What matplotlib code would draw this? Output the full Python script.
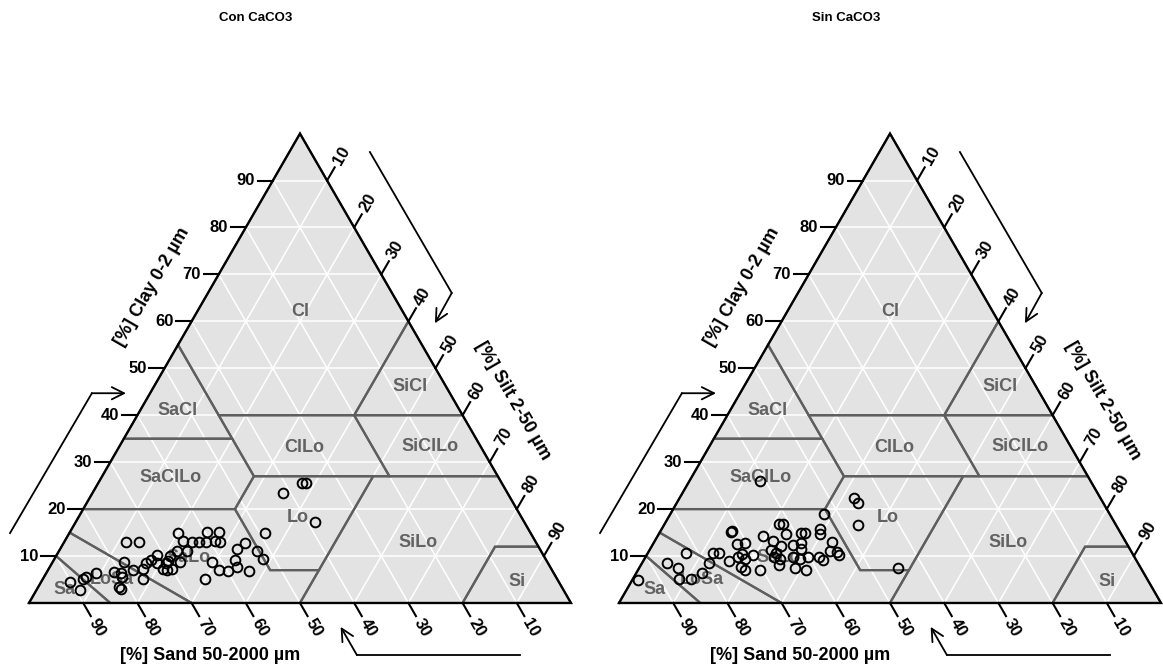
import numpy as np
import matplotlib
matplotlib.use("Agg")
from matplotlib import pyplot as plt

plt.rcParams['font.family'] = ['Liberation Sans', 'DejaVu Sans']

# texture data: sand and clay in %, silt = 100 - sand - clay
sand_con = [90.2, 89.2, 87.5, 86.7, 84.4, 81.0, 79.8, 78.1, 80.1, 81.7,
            81.5, 77.3, 75.3, 76.4, 75.6, 73.2, 74.2, 72.9, 71.3, 72.1,
            71.7, 70.5, 69.9, 69.0, 70.0, 71.0, 65.1, 65.0, 67.2, 67.8,
            65.3, 63.4, 62.1, 59.6, 60.8, 59.1, 57.4, 58.3, 61.9, 65.0,
            61.4, 59.9, 57.8, 57.4, 55.9, 53.8, 56.0, 52.4, 52.1, 49.0,
            41.4, 36.9, 36.1, 38.6]
clay_con = [4.5, 2.8, 5.1, 5.5, 6.4, 6.6, 6.4, 8.7, 5.5, 3.4,
            3.0, 7.0, 7.2, 5.1, 13.0, 13.0, 8.5, 9.2, 10.2, 8.5,
            7.2, 8.5, 9.0, 10.0, 7.2, 7.0, 14.9, 13.2, 11.1, 8.7,
            11.1, 13.0, 13.0, 15.1, 13.0, 13.2, 15.1, 13.0, 8.7, 5.1,
            7.0, 6.8, 7.7, 9.2, 11.5, 12.8, 6.8, 11.1, 9.4, 14.9,
            23.4, 25.6, 25.6, 17.3]

sand_sin = [94.0, 86.9, 85.4, 82.3, 86.4, 84.2, 81.5, 79.1, 77.3, 76.2,
            75.2, 71.8, 71.5, 72.0, 70.4, 73.1, 72.1, 73.7, 73.2, 70.2,
            66.3, 70.5, 65.0, 66.3, 65.7, 66.5, 62.1, 61.3, 61.8, 65.6,
            66.4, 64.0, 61.7, 63.0, 63.8, 59.0, 58.2, 60.0, 60.7, 61.9,
            60.2, 62.0, 55.0, 55.6, 58.2, 57.8, 52.7, 54.2, 55.5, 54.3,
            54.3, 45.5, 45.3, 47.6, 44.8, 61.0, 72.1]
clay_sin = [4.9, 8.5, 7.5, 10.7, 5.1, 5.1, 6.4, 8.5, 10.7, 10.7,
            9.0, 15.1, 15.3, 12.6, 12.8, 9.8, 10.4, 7.7, 7.0, 10.2,
            14.3, 7.0, 13.2, 11.3, 10.7, 9.8, 16.8, 16.8, 14.7, 9.4,
            8.1, 12.1, 12.4, 9.8, 7.5, 14.9, 14.9, 12.8, 11.5, 9.4,
            9.8, 7.0, 15.8, 14.7, 9.8, 9.2, 19.0, 13.0, 11.1, 10.9,
            10.2, 22.4, 21.3, 16.6, 7.5, 26.0, 9.4]

# USDA texture classes, vertices as (sand, silt, clay)
classes = {
    'Cl': [(45, 0, 55), (0, 0, 100), (0, 40, 60), (20, 40, 40), (45, 15, 40)],
    'SiCl': [(0, 40, 60), (0, 60, 40), (20, 40, 40)],
    'SaCl': [(65, 0, 35), (45, 0, 55), (45, 15, 40), (45, 20, 35)],
    'SaClLo': [(80, 0, 20), (65, 0, 35), (45, 20, 35), (45, 28, 27), (52, 28, 20)],
    'ClLo': [(45, 15, 40), (20, 40, 40), (20, 53, 27), (45, 28, 27)],
    'SiClLo': [(20, 40, 40), (0, 60, 40), (0, 73, 27), (20, 53, 27)],
    'Lo': [(52, 28, 20), (45, 28, 27), (23, 50, 27), (43, 50, 7), (52, 41, 7)],
    'SaLo': [(85, 0, 15), (80, 0, 20), (52, 28, 20), (52, 41, 7), (43, 50, 7),
             (50, 50, 0), (70, 30, 0)],
    'LoSa': [(90, 0, 10), (85, 0, 15), (70, 30, 0), (85, 15, 0)],
    'Sa': [(100, 0, 0), (90, 0, 10), (85, 15, 0)],
    'SiLo': [(50, 50, 0), (23, 50, 27), (0, 73, 27), (0, 88, 12), (8, 80, 12), (20, 80, 0)],
    'Si': [(20, 80, 0), (8, 80, 12), (0, 88, 12), (0, 100, 0)],
}
# where the class names sit (triangle x, y)
class_label_xy = {
    'Cl': (50.0, 53.7), 'SiCl': (70.3, 40.0), 'SaCl': (27.4, 35.5),
    'ClLo': (50.7, 28.7), 'SiClLo': (74.0, 28.8), 'SaClLo': (26.2, 23.1),
    'Lo': (49.6, 15.8), 'SiLo': (71.8, 11.1), 'Si': (90.1, 4.0),
    'SaLo': (29.5, 8.3), 'LoSa': (15.2, 4.4), 'Sa': (6.5, 2.4),
}
ticks = [10, 20, 30, 40, 50, 60, 70, 80, 90]

H = np.sqrt(3) / 2
BG = '#e3e3e3'
LINE = '#5e5e5e'


def tern(sand, silt, clay):
    sand = np.asarray(sand, float)
    clay = np.asarray(clay, float)
    silt = np.asarray(silt, float)
    return silt + clay / 2, clay * H


def draw_panel(ax, sand, clay, title):
    ax.set_xlim(*ax._lims[0])
    ax.set_ylim(-12.18, 111.25)
    ax.axis('off')

    # background
    ax.fill([0, 100, 50], [0, 0, 100 * H], color=BG, zorder=0, lw=0)

    # white grid
    for v in ticks:
        x, y = tern([100 - v, 0], [0, 100 - v], [v, v])
        ax.plot(x, y, color='white', lw=1.1, zorder=1)
        x, y = tern([100 - v, 0], [v, v], [0, 100 - v])
        ax.plot(x, y, color='white', lw=1.1, zorder=1)
        x, y = tern([v, v], [100 - v, 0], [0, 100 - v])
        ax.plot(x, y, color='white', lw=1.1, zorder=1)

    # class boundaries and names
    for name, verts in classes.items():
        s, si, c = zip(*verts)
        x, y = tern(s, si, c)
        ax.fill(x, y, fill=False, edgecolor=LINE, lw=1.6, zorder=2)
        lx, ly = class_label_xy[name]
        ax.text(lx, ly, name, color='#626262', fontsize=13, fontweight='bold',
                ha='center', va='center', zorder=3)

    # outer triangle
    ax.plot([0, 100, 50, 0], [0, 0, 100 * H, 0], color='black', lw=1.6,
            zorder=4, solid_joinstyle='miter')

    tl = 2.8
    kw = dict(fontsize=12, fontweight='bold', ha='center', va='center')
    for v in ticks:
        # clay (left side)
        x, y = tern(100 - v, 0, v)
        ax.plot([x, x - tl], [y, y], color='black', lw=1.5, zorder=4)
        ax.text(x - tl - 0.5, y, str(v), fontsize=12, fontweight='bold',
                ha='right', va='center')
        # silt (right side)
        x, y = tern(0, v, 100 - v)
        dx, dy = 0.5, H
        ax.plot([x, x + tl * dx], [y, y + tl * dy], color='black', lw=1.5, zorder=4)
        ax.text(x + 5.3 * dx, y + 5.3 * dy, str(v), rotation=60, **kw)
        # sand (bottom)
        x, y = tern(v, 100 - v, 0)
        dx, dy = 0.5, -H
        ax.plot([x, x + tl * dx], [y, y + tl * dy], color='black', lw=1.5, zorder=4)
        ax.text(x + 5.2 * dx, y + 5.2 * dy, str(v), rotation=-60, **kw)

    ax.text(22.7, 58.3, '[%] Clay 0-2 µm', rotation=60, fontsize=13,
            fontweight='bold', ha='center', va='center')
    ax.text(89.3, 37.4, '[%] Silt 2-50 µm', rotation=-60, fontsize=13,
            fontweight='bold', ha='center', va='center')
    ax.text(33.4, -9.6, '[%] Sand 50-2000 µm', fontsize=13,
            fontweight='bold', ha='center', va='center')
    ax.text(41.9, 107.9, title, fontsize=9.5, fontweight='bold',
            ha='center', va='center')

    # direction arrows
    ap = dict(arrowstyle='->', lw=1.3, color='black', mutation_scale=22,
              shrinkA=0, shrinkB=0)
    ax.plot([-3.5, 11.6], [12.9, 38.7], color='black', lw=1.3)
    ax.annotate('', xy=(17.9, 38.7), xytext=(11.6, 38.7), arrowprops=ap)
    ax.plot([62.9, 78.0], [83.2, 57.2], color='black', lw=1.3)
    ax.annotate('', xy=(74.9, 51.6), xytext=(78.0, 57.2), arrowprops=ap)
    ax.plot([90.6, 60.5], [-9.6, -9.6], color='black', lw=1.3)
    ax.annotate('', xy=(57.5, -4.4), xytext=(60.5, -9.6), arrowprops=ap)

    # samples
    sand = np.asarray(sand)
    clay = np.asarray(clay)
    x, y = tern(sand, 100 - sand - clay, clay)
    ax.plot(x, y, 'o', ms=7, mfc='none', mec='black', mew=1.4, zorder=5)


fig = plt.figure(figsize=(11.63, 6.69), dpi=100)
ax1 = fig.add_axes([0, 0, 581 / 1163, 1])
ax1._lims = [(-5.35, 101.85)]
ax2 = fig.add_axes([581 / 1163, 0, 582 / 1163, 1])
ax2._lims = [(-7.01, 100.37)]

draw_panel(ax1, sand_con, clay_con, 'Con CaCO3')
draw_panel(ax2, sand_sin, clay_sin, 'Sin CaCO3')

fig.savefig('out.png', dpi=100)
